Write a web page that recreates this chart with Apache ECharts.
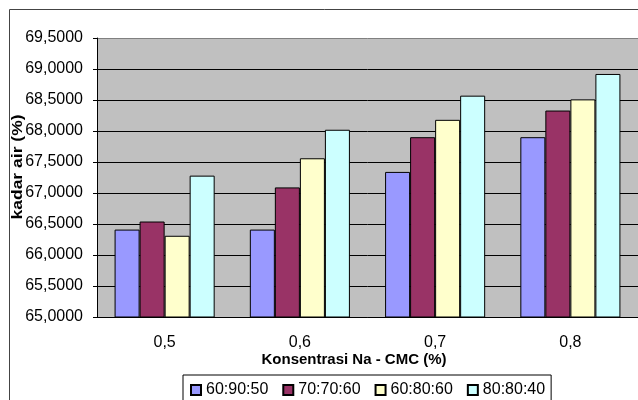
<!DOCTYPE html>
<html>
<head>
<meta charset="utf-8">
<script src="https://cdn.jsdelivr.net/npm/echarts@6/dist/echarts.min.js"></script>
<style>
  html, body { margin: 0; padding: 0; background: #fff; }
  #chart { width: 638px; height: 400px; }
</style>
</head>
<body>
<div id="chart"></div>
<script>
const categories = ['0,5', '0,6', '0,7', '0,8']
const seriesNames = ['60:90:50', '70:70:60', '60:80:60', '80:80:40']
const s1 = [66.41, 66.41, 67.34, 67.90]
const s2 = [66.54, 67.09, 67.90, 68.33]
const s3 = [66.31, 67.56, 68.18, 68.51]
const s4 = [67.28, 68.02, 68.57, 68.92]
const colors = ['#9999ff', '#993366', '#ffffcc', '#ccffff']

const font = 'Liberation Sans, Arial, sans-serif'
const chart = echarts.init(document.getElementById('chart'))

const seriesData = [s1, s2, s3, s4]

chart.setOption({
    animation: false,
    textStyle: { fontFamily: font },
    grid: {
        left: 97, top: 38, right: -3, bottom: 83,
        show: true,
        backgroundColor: '#c0c0c0',
        borderWidth: 0
    },
    legend: {
        data: seriesNames,
        left: 183,
        top: 375,
        padding: [7, 6, 8, 7],
        borderColor: '#000',
        borderWidth: 1,
        backgroundColor: '#fff',
        itemWidth: 10,
        itemHeight: 10,
        itemGap: 14,
        icon: 'rect',
        textStyle: { fontSize: 16, color: '#000', fontFamily: font }
    },
    xAxis: {
        type: 'category',
        data: categories,
        axisLine: { lineStyle: { color: '#000' } },
        axisTick: { inside: true, length: 4, lineStyle: { color: '#000' } },
        axisLabel: { fontSize: 16, color: '#000', margin: 18 },
        splitLine: { show: false }
    },
    yAxis: {
        type: 'value',
        min: 65,
        max: 69.5,
        interval: 0.5,
        axisLine: { show: true, lineStyle: { color: '#000' } },
        axisTick: { show: true, length: 4, lineStyle: { color: '#000' } },
        axisLabel: {
            fontSize: 16, color: '#000', margin: 14,
            formatter: v => v.toFixed(4).replace('.', ',')
        },
        splitLine: {
            lineStyle: {
                color: ['#000', '#000', '#000', '#000', '#000', '#000', '#000', '#000', '#000', '#808080'],
                width: 1
            }
        }
    },
    graphic: [
        {
            type: 'rect',
            shape: { x: 9.5, y: 9.5, width: 640, height: 400 },
            style: { fill: 'none', stroke: '#444', lineWidth: 1 },
            silent: true
        },
        {
            type: 'text',
            x: 11, y: 167,
            rotation: Math.PI / 2,
            scaleX: 1.25,
            style: {
                text: 'kadar air (%)',
                font: 'bold 14px ' + font,
                fill: '#000',
                textAlign: 'center',
                textVerticalAlign: 'top'
            }
        },
        {
            type: 'text',
            x: 354, y: 360,
            style: {
                text: 'Konsentrasi Na - CMC (%)',
                font: 'bold 15px ' + font,
                fill: '#000',
                textAlign: 'center',
                textVerticalAlign: 'middle'
            }
        }
    ],
    series: seriesNames.map((name, i) => ({
        name,
        type: 'bar',
        data: seriesData[i],
        barGap: 0,
        barCategoryGap: '26%',
        itemStyle: { color: colors[i], borderColor: '#000', borderWidth: 1 }
    }))
})
</script>
</body>
</html>
